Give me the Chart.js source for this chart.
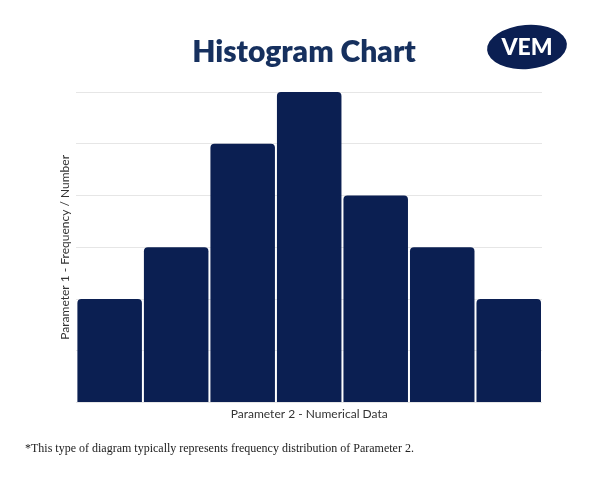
<!DOCTYPE html>
<html>
<head>
<meta charset="utf-8">
<script src="https://cdn.jsdelivr.net/npm/chart.js@4.4.0/dist/chart.umd.min.js"></script>
<style>
  html, body { margin: 0; padding: 0; background: #ffffff; }
  #wrap { position: relative; width: 600px; height: 480px; }
</style>
</head>
<body>
<div id="wrap"><canvas id="chart" width="600" height="480"></canvas></div>
<script>
// Bins of the histogram (no tick labels in the picture)
const bins = ['1', '2', '3', '4', '5', '6', '7'];
// Frequency per bin, read in grid units
const frequencies = [2, 3, 5, 6, 4, 3, 2];

const navy = '#0b1f52';

// Draws the heading, the logo and the footnote around the plot
const decorations = {
    id: 'decorations',
    afterDraw(chart) {
        const ctx = chart.ctx;
        ctx.save();

        // title
        ctx.fillStyle = '#16305e';
        ctx.font = '800 30px Lato, "Open Sans", sans-serif';
        ctx.textAlign = 'center';
        ctx.textBaseline = 'middle';
        ctx.fillText('Histogram Chart', 304, 52);

        // logo
        ctx.fillStyle = navy;
        ctx.beginPath();
        ctx.ellipse(527, 47, 40, 22, -0.08, 0, Math.PI * 2);
        ctx.fill();
        ctx.fillStyle = '#ffffff';
        ctx.font = '900 23px Lato, sans-serif';
        ctx.fillText('VEM', 527, 48);

        // footnote
        ctx.fillStyle = '#222222';
        ctx.font = '12px "Liberation Serif", serif';
        ctx.textAlign = 'left';
        ctx.fillText('*This type of diagram typically represents frequency distribution of Parameter 2.', 25, 449);

        ctx.restore();
    }
};

const ctx = document.getElementById('chart').getContext('2d');
new Chart(ctx, {
    type: 'bar',
    data: {
        labels: bins,
        datasets: [{
            data: frequencies,
            backgroundColor: navy,
            borderRadius: { topLeft: 4, topRight: 4, bottomLeft: 0, bottomRight: 0 },
            borderSkipped: 'bottom',
            barPercentage: 0.97,
            categoryPercentage: 1.0
        }]
    },
    options: {
        responsive: false,
        animation: false,
        layout: { padding: { top: 92, left: 54, right: 58, bottom: 55 } },
        plugins: {
            legend: { display: false },
            tooltip: { enabled: false },
            title: { display: false }
        },
        scales: {
            x: {
                grid: { display: false, drawTicks: false },
                border: { display: false },
                ticks: { display: false },
                title: {
                    display: true,
                    text: 'Parameter 2 - Numerical Data',
                    color: '#333333',
                    font: { family: 'Lato, "Open Sans", sans-serif', size: 12 },
                    padding: { top: 4, bottom: 4 }
                }
            },
            y: {
                min: 0,
                max: 6,
                grid: { color: '#e6e6e6', drawTicks: false },
                border: { display: false },
                ticks: { display: false, stepSize: 1 },
                title: {
                    display: true,
                    text: 'Parameter 1 - Frequency / Number',
                    color: '#333333',
                    font: { family: 'Lato, "Open Sans", sans-serif', size: 12 },
                    padding: { top: 4, bottom: 4 }
                }
            }
        }
    },
    plugins: [decorations]
});
</script>
</body>
</html>
